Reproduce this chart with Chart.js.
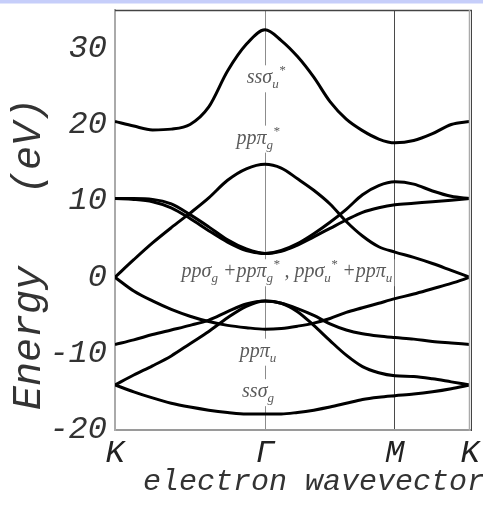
<!DOCTYPE html>
<html>
<head>
<meta charset="utf-8">
<script src="https://cdn.jsdelivr.net/npm/chart.js@4.4.0/dist/chart.umd.min.js"></script>
<style>
  html, body { margin: 0; padding: 0; background: #fff; }
  canvas { display: block; }
</style>
</head>
<body>
<canvas id="bandChart" width="483" height="512"></canvas>
<script>
// k along the path K -> Gamma -> M -> K (units of 2pi/a)
var kPath = [0, 0.1667, 0.3333, 0.5, 0.6667, 0.8333, 1.0, 1.1667, 1.3333,
             1.4777, 1.6220, 1.7664, 1.9107, 2.0550, 2.1994, 2.3437, 2.4880,
             2.6547, 2.8214, 2.9880, 3.1547];
var kTicks = [0, 1.3333, 2.4880, 3.1547];
var kTickLabels = ['K', 'Γ', 'M', 'K'];
var energyTicks = [-20, -10, 0, 10, 20, 30];

// band energies (eV), one value per kPath point
var band1 = [20.4, 19.8, 19.3, 19.4, 20.0, 22.3, 27.0, 30.5, 32.4, 31.0, 28.9, 26.2, 23.0, 20.7, 19.2, 18.1, 17.6, 17.9, 18.8, 20.0, 20.4];
var band2 = [0, 2.3, 4.5, 6.5, 8.4, 10.4, 12.7, 14.2, 14.8, 14.3, 12.9, 11.4, 9.6, 7.3, 5.4, 4.0, 3.3, 2.6, 1.8, 0.9, 0];
var band3 = [10.3, 10.3, 10.2, 9.6, 8.2, 6.6, 4.9, 3.7, 3.1, 3.5, 4.4, 5.7, 7.2, 8.9, 10.8, 12.0, 12.5, 12.2, 11.3, 10.6, 10.3];
var band4 = [10.3, 10.2, 9.9, 9.1, 7.7, 6.1, 4.6, 3.5, 3.1, 3.4, 4.2, 5.3, 6.4, 7.5, 8.5, 9.1, 9.5, 9.7, 9.9, 10.1, 10.3];
var band5 = [0, -1.8, -3.1, -4.2, -5.1, -5.8, -6.3, -6.6, -6.8, -6.7, -6.4, -6.0, -5.4, -4.6, -4.0, -3.4, -2.8, -2.2, -1.5, -0.8, 0];
var band6 = [-8.8, -8.2, -7.5, -6.9, -6.3, -5.6, -4.5, -3.5, -3.1, -3.4, -4.1, -5.0, -6.1, -6.9, -7.4, -7.7, -7.9, -8.1, -8.4, -8.6, -8.8];
var band7 = [-14.1, -12.8, -11.6, -10.3, -8.7, -7.1, -5.3, -3.8, -3.1, -3.4, -4.5, -6.3, -8.3, -10.2, -11.7, -12.5, -12.9, -13.0, -13.3, -13.7, -14.1];
var band8 = [-14.1, -15.0, -15.8, -16.5, -17.0, -17.4, -17.7, -17.9, -17.9, -17.9, -17.7, -17.4, -17.0, -16.5, -16.0, -15.7, -15.5, -15.3, -15.0, -14.6, -14.1];

var bands = [band1, band2, band3, band4, band5, band6, band7, band8];

// orbital labels: [text, 'sub' | 'sup' | undefined]
var bandLabels = [
    { k: 1.342, e: 25.4, parts: [['ssσ'], ['u', 'sub'], ['*', 'sup']] },
    { k: 1.271, e: 17.5, parts: [['ppπ'], ['g', 'sub'], ['*', 'sup']] },
    { k: 1.528, e: 0.0, parts: [['ppσ'], ['g', 'sub'], [' +ppπ'], ['g', 'sub'], ['*', 'sup'], [' , ppσ'], ['u', 'sub'], ['*', 'sup'], [' +ppπ'], ['u', 'sub']] },
    { k: 1.271, e: -10.4, parts: [['ppπ'], ['u', 'sub']] },
    { k: 1.271, e: -15.7, parts: [['ssσ'], ['g', 'sub']] }
];

function toPoints(values) {
    return values.map(function (e, i) { return { x: kPath[i], y: e }; });
}

function partFont(kind) {
    return 'italic ' + (kind ? 13 : 20) + 'px "Liberation Serif", serif';
}

var backgroundPlugin = {
    id: 'background',
    beforeDraw: function (chart) {
        var ctx = chart.ctx;
        ctx.save();
        ctx.fillStyle = '#ffffff';
        ctx.fillRect(0, 0, chart.width, chart.height);
        ctx.fillStyle = '#c6cefa';
        ctx.fillRect(0, 0, chart.width, 3.5);
        ctx.restore();
    }
};

var labelPlugin = {
    id: 'bandLabels',
    beforeDatasetsDraw: function (chart) {
        var ctx = chart.ctx;
        var xs = chart.scales.x, ys = chart.scales.y;
        ctx.save();
        bandLabels.forEach(function (lab) {
            var w = 0;
            lab.parts.forEach(function (p) {
                ctx.font = partFont(p[1]);
                w += ctx.measureText(p[0]).width;
            });
            var x = xs.getPixelForValue(lab.k) - w / 2;
            var y = ys.getPixelForValue(lab.e);
            ctx.fillStyle = '#ffffff';
            ctx.fillRect(x - 2, y - 18, w + 4, 27);
            ctx.fillStyle = '#5a5a5a';
            ctx.textBaseline = 'alphabetic';
            ctx.textAlign = 'left';
            lab.parts.forEach(function (p) {
                ctx.font = partFont(p[1]);
                var dy = p[1] === 'sub' ? 5 : (p[1] === 'sup' ? -9 : 0);
                ctx.fillText(p[0], x, y + dy);
                x += ctx.measureText(p[0]).width;
            });
        });
        ctx.restore();
    },
    afterDraw: function (chart) {
        var ctx = chart.ctx;
        var a = chart.chartArea;
        ctx.save();
        // frame top and right
        ctx.strokeStyle = '#444444';
        ctx.lineWidth = 1.5;
        ctx.beginPath();
        ctx.moveTo(a.left, a.top + 0.5);
        ctx.lineTo(a.right + 2, a.top + 0.5);
        ctx.stroke();
        ctx.strokeStyle = '#aaaaaa';
        ctx.lineWidth = 1.5;
        ctx.beginPath();
        ctx.moveTo(a.right - 0.5, a.top);
        ctx.lineTo(a.right - 0.5, a.bottom + 1);
        ctx.stroke();
        ctx.strokeStyle = '#444444';
        ctx.lineWidth = 1;
        ctx.beginPath();
        ctx.moveTo(a.right + 1.5, a.top);
        ctx.lineTo(a.right + 1.5, a.bottom + 1);
        ctx.stroke();

        // axis titles
        ctx.fillStyle = '#333333';
        ctx.textBaseline = 'alphabetic';
        ctx.textAlign = 'left';
        ctx.font = 'italic 30px "Liberation Mono", monospace';
        ctx.fillText('electron wavevector', 143, 490);

        ctx.translate(40, 410);
        ctx.rotate(-Math.PI / 2);
        ctx.font = 'italic 40px "Liberation Mono", monospace';
        ctx.fillText('Energy   (eV)', 0, 0);
        ctx.restore();
    }
};

var ctx = document.getElementById('bandChart').getContext('2d');

var chart = new Chart(ctx, {
    type: 'line',
    data: {
        datasets: bands.map(function (b, i) {
            return {
                label: 'band ' + (i + 1),
                data: toPoints(b),
                borderColor: '#000000',
                borderWidth: 3,
                pointRadius: 0,
                fill: false,
                cubicInterpolationMode: 'monotone'
            };
        })
    },
    options: {
        responsive: false,
        animation: false,
        layout: { padding: { top: 10, right: 13, left: 0, bottom: 0 }, autoPadding: false },
        plugins: { legend: { display: false }, tooltip: { enabled: false } },
        scales: {
            x: {
                type: 'linear',
                min: 0,
                max: kPath[kPath.length - 1],
                afterFit: function (s) {
                    s.height = 82;
                    s.paddingLeft = 0;
                    s.paddingRight = 0;
                },
                afterBuildTicks: function (s) {
                    s.ticks = kTicks.map(function (v) { return { value: v }; });
                },
                ticks: {
                    autoSkip: false,
                    maxRotation: 0,
                    padding: 4,
                    color: '#222222',
                    font: { family: '"Liberation Mono", monospace', style: 'italic', size: 32 },
                    callback: function (v, i) { return kTickLabels[i]; }
                },
                grid: {
                    drawTicks: false,
                    lineWidth: 1,
                    color: function (c) {
                        if (c.index === 1) return '#8c8c8c';
                        if (c.index === 2) return '#4a4a4a';
                        return 'rgba(0,0,0,0)';
                    }
                },
                border: { display: true, color: '#9a9a9a', width: 2 }
            },
            y: {
                min: -20,
                max: 35,
                afterFit: function (s) {
                    s.width = 115;
                    s.paddingTop = 0;
                    s.paddingBottom = 0;
                },
                afterBuildTicks: function (s) {
                    s.ticks = energyTicks.map(function (v) { return { value: v }; });
                },
                ticks: {
                    padding: 8,
                    color: '#333333',
                    font: { family: '"Liberation Mono", monospace', style: 'italic', size: 32 },
                    callback: function (v) { return String(v); }
                },
                grid: { display: false, drawTicks: false },
                border: { display: true, color: '#aaaaaa', width: 2 }
            }
        }
    },
    plugins: [backgroundPlugin, labelPlugin]
});
</script>
</body>
</html>
